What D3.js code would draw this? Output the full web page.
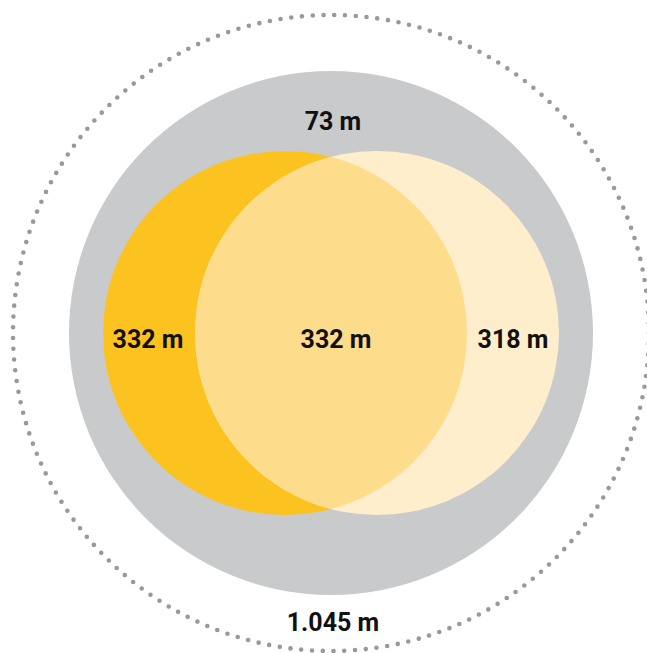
<!DOCTYPE html>
<html>
<head>
<meta charset="utf-8">
<script src="https://cdn.jsdelivr.net/npm/d3@7"></script>
<style>
  html, body { margin: 0; padding: 0; background: #ffffff; }
  svg { display: block; }
</style>
</head>
<body>
<svg id="chart" width="647" height="653"></svg>
<script>
// ---- data ----
const circleNames  = ["outer", "ring", "left", "right"];
const circleSizes  = [318, 262, 182, 182];          // relative radii
const circleOffset = [0, 0, -46, 46];               // horizontal offset (same units)
const circleFills  = ["none", "#c9cacc", "#fcc320", "#feeecb"];

const labelTexts = ["73 m", "332 m", "332 m", "318 m", "1.045 m"];
const labelX     = [2, -183, 5, 182, 2];              // same units as radii
const labelY     = [-203, 15, 15, 15, 298];

// ---- layout ----
const W = 647, H = 653;
const cx = 331, cy = 333;
const svg = d3.select("#chart");

const r = d3.scaleLinear().domain([0, 318]).range([0, 318]);
const x = d3.scaleLinear().domain([-318, 318]).range([cx - 318, cx + 318]);
const y = d3.scaleLinear().domain([-318, 318]).range([cy - 318, cy + 318]);

const circles = circleNames.map((n, i) => ({ name: n, size: circleSizes[i], off: circleOffset[i], fill: circleFills[i] }));

// dotted outer
svg.append("circle")
  .attr("cx", x(circles[0].off)).attr("cy", y(0)).attr("r", r(circles[0].size))
  .attr("fill", "none").attr("stroke", "#98999b").attr("stroke-width", 4.6)
  .attr("stroke-linecap", "round").attr("stroke-dasharray", "0 10.8");

// gray ring
svg.append("circle")
  .attr("cx", x(circles[1].off)).attr("cy", y(0)).attr("r", r(circles[1].size))
  .attr("fill", circles[1].fill);

// left orange
svg.append("circle")
  .attr("cx", x(circles[2].off)).attr("cy", y(0)).attr("r", r(circles[2].size))
  .attr("fill", circles[2].fill);

// right light
svg.append("circle")
  .attr("cx", x(circles[3].off)).attr("cy", y(0)).attr("r", r(circles[3].size))
  .attr("fill", circles[3].fill);

// overlap
const defs = svg.append("defs");
defs.append("clipPath").attr("id", "clipLeft")
  .append("circle").attr("cx", x(circles[2].off)).attr("cy", y(0)).attr("r", r(circles[2].size));
svg.append("circle")
  .attr("cx", x(circles[3].off)).attr("cy", y(0)).attr("r", r(circles[3].size))
  .attr("fill", "#fddc8c").attr("clip-path", "url(#clipLeft)");

// labels
svg.selectAll("text.lbl").data(labelTexts).enter().append("text")
  .attr("class", "lbl")
  .attr("x", (d, i) => x(labelX[i]))
  .attr("y", (d, i) => y(labelY[i]))
  .attr("text-anchor", "middle")
  .attr("font-family", "Roboto, 'DejaVu Sans', sans-serif")
  .attr("font-weight", "bold")
  .attr("font-size", 25)
  .attr("fill", "#111111")
  .text(d => d);
</script>
</body>
</html>
